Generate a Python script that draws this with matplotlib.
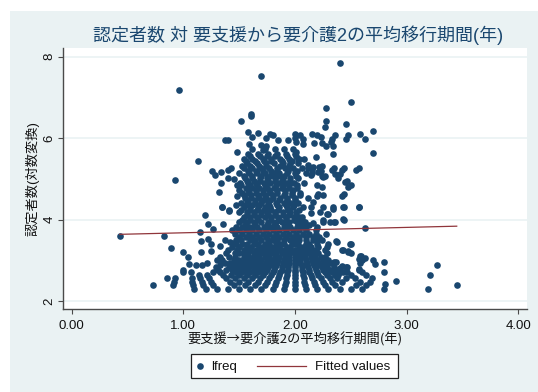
import matplotlib
matplotlib.use("Agg")
import matplotlib.pyplot as plt
import matplotlib.patches as patches
from matplotlib.lines import Line2D

plt.rcParams['font.family'] = ['Liberation Sans', 'Noto Sans CJK JP', 'DejaVu Sans']

title = "認定者数 対 要支援から要介護2の平均移行期間(年)"
xlabel = "要支援→要介護2の平均移行期間(年)"
ylabel = "認定者数(対数変換)"
xticks = [0, 1, 2, 3, 4]
xticklabels = ["0.00", "1.00", "2.00", "3.00", "4.00"]
yticks = [2, 4, 6, 8]

fit_x = [0.43, 3.45]
fit_y = [3.64, 3.84]

# scattered points, read one by one
outer_x = [0.43, 0.83, 0.887, 1.0, 1.045, 1.05, 1.11, 1.17, 1.21, 1.0, 1.0, 1.07, 1.15, 1.19, 1.22, 1.27, 1.35, 1.41, 1.36,
           1.16, 1.22, 1.25, 1.16, 1.25, 1.33, 1.37, 1.42, 1.45, 0.96, 1.70, 0.925, 1.13, 1.61, 1.61, 1.515, 1.58, 1.67,
           1.62, 1.37, 1.40, 1.59, 1.48, 1.70, 1.74, 1.71, 1.74, 1.78, 2.40, 2.50, 2.28, 2.28, 2.27, 2.455, 2.155, 2.20,
           2.23, 2.36, 2.33, 2.32, 2.475, 2.46, 2.58, 2.63, 2.70, 2.70, 2.17, 2.245, 2.28, 2.34, 2.34, 2.19, 1.80, 2.0,
           2.05, 2.0, 2.01, 2.07, 2.07, 1.94, 1.85, 2.01, 2.03, 2.08, 2.12, 2.16, 2.15, 2.24, 2.23, 2.27, 2.35, 2.4, 2.44,
           2.47, 2.5, 2.57, 2.2, 2.21, 2.44, 2.57, 2.44, 2.44, 2.34, 2.29, 2.25, 2.35, 2.63, 2.37, 2.5, 2.43, 2.48, 2.59,
           2.63, 2.7, 2.72, 2.8, 2.8, 2.57, 2.57, 2.6, 2.47, 2.42, 2.35, 2.91, 2.81, 3.21, 3.27, 3.19, 3.45,
           1.26, 1.28, 1.34, 1.40, 1.43, 1.335, 1.32, 1.40, 1.45, 1.48, 1.5, 1.48, 1.47, 1.41, 1.35,
           2.12, 2.15, 2.22, 2.21, 2.14, 2.24, 2.255, 2.33, 2.36, 2.42, 2.55, 2.39, 2.45, 2.48, 2.24, 2.20, 2.255, 2.42,
           2.43, 2.57, 2.115, 2.165, 2.14, 2.14, 2.255, 2.225, 2.34, 2.30, 2.43, 2.36, 2.315, 2.255, 2.165, 2.06, 2.06,
           2.375, 2.49, 2.425, 2.48, 2.5, 2.58, 2.6, 2.58, 2.57, 2.37, 2.46, 2.4, 2.36, 2.39, 2.43, 2.46, 2.54, 2.58]
outer_y = [3.60, 3.59, 3.30, 3.21, 3.09, 2.92, 2.89, 2.89, 2.93, 2.77, 2.71, 2.71, 3.70, 4.12, 3.90, 3.78, 4.30, 4.24, 3.90,
           3.48, 3.52, 3.41, 3.20, 3.22, 3.35, 3.50, 3.46, 3.43, 7.18, 7.52, 4.97, 5.43, 6.60, 6.55, 6.43, 6.15, 6.13,
           6.03, 5.95, 5.95, 5.86, 5.66, 5.83, 5.81, 5.70, 6.00, 6.10, 7.84, 6.90, 6.73, 6.43, 6.28, 6.34, 6.11, 6.08,
           6.03, 6.08, 5.98, 5.90, 6.07, 5.99, 6.10, 5.99, 6.18, 5.63, 5.87, 5.87, 5.80, 5.80, 5.62, 5.55, 6.07, 6.10,
           6.08, 6.00, 5.90, 5.97, 5.85, 5.96, 5.95, 5.65, 5.50, 5.50, 5.33, 5.29, 5.15, 5.32, 5.20, 5.08, 5.28, 5.11, 5.26,
           4.95, 4.85, 5.28, 4.85, 4.62, 4.62, 4.30, 4.30, 4.00, 4.27, 4.14, 3.98, 3.95, 3.80, 3.47, 3.40, 3.25, 3.20, 3.10,
           3.06, 3.02, 2.90, 2.96, 2.72, 3.03, 2.79, 2.71, 2.84, 2.87, 2.96, 2.49, 2.42, 2.64, 2.89, 2.30, 2.40,
           5.20, 5.10, 5.16, 5.22, 5.28, 4.90, 4.67, 5.03, 5.00, 4.85, 4.73, 4.58, 4.35, 4.22, 4.30,
           5.26, 5.22, 5.30, 5.16, 5.10, 5.06, 5.04, 5.22, 5.12, 5.22, 5.22, 5.02, 4.93, 4.81, 4.80, 4.58, 4.61, 4.58,
           4.30, 4.30, 4.52, 4.44, 4.32, 4.16, 4.32, 4.20, 4.30, 4.14, 4.01, 3.95, 3.95, 3.95, 3.91, 4.07, 3.93,
           3.46, 3.41, 3.26, 3.22, 3.18, 3.11, 3.01, 2.93, 2.77, 2.95, 2.83, 2.81, 2.72, 2.64, 2.72, 2.56, 2.58, 2.48]

# the low counts fall on clear rows
row_y = [2.30, 2.40, 2.48, 2.56, 2.64, 2.71, 2.77, 2.83, 2.89, 2.94, 3.00, 3.09, 3.18, 3.26, 3.33, 3.40, 3.50, 3.58, 3.66, 3.74,
         3.82, 3.94, 4.06, 4.18, 4.30, 4.42, 4.54, 4.66, 4.78, 4.90, 5.02, 5.14, 5.26, 5.38, 5.50, 5.62, 5.74,
         3.88, 4.00, 4.12, 4.24, 4.36, 4.48, 4.60, 4.72, 4.84, 4.96, 5.08, 5.20, 5.32, 5.44, 5.56]
row_x = [
    [1.1, 1.2, 1.3, 1.4, 1.5, 1.6, 1.7, 1.8, 1.9, 2.0, 2.1, 2.2, 2.3, 2.4, 2.5, 2.6, 2.8],
    [0.73, 0.91, 1.09, 1.18, 1.27, 1.45, 1.55, 1.64, 1.73, 1.82, 1.91, 2.0, 2.09, 2.18, 2.27, 2.36, 2.55, 2.64],
    [0.92, 1.08, 1.17, 1.25, 1.42, 1.5, 1.58, 1.67, 1.75, 1.83, 1.92, 2.0, 2.08, 2.17, 2.25, 2.33, 2.42, 2.67],
    [0.85, 0.93, 1.08, 1.15, 1.23, 1.38, 1.46, 1.54, 1.62, 1.69, 1.77, 1.85, 1.92, 2.0, 2.08, 2.15, 2.23, 2.31, 2.38, 2.69],
    [1.14, 1.21, 1.36, 1.43, 1.5, 1.57, 1.64, 1.71, 1.79, 1.86, 1.93, 2.0, 2.07, 2.14, 2.21, 2.29, 2.36, 2.5, 2.64],
    [1.27, 1.33, 1.47, 1.53, 1.6, 1.67, 1.73, 1.8, 1.87, 1.93, 2.0, 2.07, 2.13, 2.2, 2.27, 2.33, 2.4, 2.47],
    [1.31, 1.38, 1.44, 1.5, 1.56, 1.63, 1.69, 1.75, 1.81, 1.88, 1.94, 2.0, 2.06, 2.13, 2.19, 2.25, 2.31, 2.38],
    [1.29, 1.41, 1.47, 1.53, 1.59, 1.65, 1.71, 1.76, 1.82, 1.88, 1.94, 2.0, 2.06, 2.12, 2.18, 2.24, 2.29, 2.35],
    [1.33, 1.44, 1.5, 1.56, 1.61, 1.67, 1.72, 1.78, 1.83, 1.89, 1.94, 2.0, 2.06, 2.11, 2.17, 2.22, 2.28],
    [1.37, 1.42, 1.47, 1.53, 1.58, 1.63, 1.68, 1.74, 1.79, 1.84, 1.89, 1.95, 2.0, 2.05, 2.11, 2.16, 2.21, 2.26, 2.32],
    [1.30, 1.35, 1.45, 1.5, 1.55, 1.6, 1.65, 1.7, 1.75, 1.8, 1.85, 1.9, 1.95, 2.0, 2.05, 2.1, 2.15, 2.2, 2.25, 2.3],
    [1.33, 1.41, 1.46, 1.54, 1.59, 1.63, 1.68, 1.73, 1.77, 1.82, 1.86, 1.91, 1.95, 2.0, 2.05, 2.09, 2.14, 2.18, 2.23, 2.27],
    [1.38, 1.46, 1.5, 1.54, 1.58, 1.63, 1.67, 1.71, 1.75, 1.79, 1.83, 1.88, 1.92, 1.96, 2.0, 2.04, 2.08, 2.13, 2.17, 2.21, 2.29],
    [1.4, 1.48, 1.54, 1.6, 1.65, 1.69, 1.73, 1.77, 1.81, 1.85, 1.88, 1.92, 1.96, 2.0, 2.04, 2.08, 2.12, 2.15, 2.19, 2.27],
    [1.44, 1.5, 1.57, 1.61, 1.68, 1.71, 1.75, 1.79, 1.82, 1.86, 1.93, 1.96, 2.04, 2.07, 2.11, 2.14, 2.21, 2.29],
    [1.47, 1.53, 1.57, 1.63, 1.67, 1.73, 1.77, 1.83, 1.87, 1.9, 1.97, 2.0, 2.03, 2.1, 2.13, 2.2, 2.3],
    [1.47, 1.52, 1.6, 1.64, 1.7, 1.76, 1.8, 1.84, 1.9, 1.96, 2.0, 2.04, 2.1, 2.16, 2.2, 2.24],
    [1.5, 1.56, 1.62, 1.68, 1.74, 1.8, 1.86, 1.92, 1.98, 2.04, 2.1, 2.16, 2.22],
    [1.46, 1.53, 1.59, 1.65, 1.71, 1.77, 1.83, 1.89, 1.95, 2.01, 2.07, 2.13, 2.19, 2.28],
    [1.44, 1.5, 1.56, 1.62, 1.68, 1.74, 1.8, 1.86, 1.92, 1.98, 2.04, 2.1, 2.19],
    [1.47, 1.53, 1.6, 1.66, 1.72, 1.78, 1.84, 1.9, 1.96, 2.02, 2.08, 2.2],
    [1.5, 1.57, 1.63, 1.7, 1.76, 1.83, 1.88, 1.95, 2.02, 2.09],
    [1.54, 1.6, 1.66, 1.73, 1.79, 1.85, 1.92, 1.99, 2.04],
    [1.5, 1.57, 1.63, 1.7, 1.75, 1.82, 1.89, 1.96, 2.01],
    [1.54, 1.6, 1.67, 1.73, 1.78, 1.86, 1.93, 1.98, 2.07],
    [1.52, 1.58, 1.64, 1.7, 1.76, 1.83, 1.9, 1.96, 2.03],
    [1.55, 1.61, 1.68, 1.74, 1.8, 1.87, 1.93, 2.0],
    [1.53, 1.59, 1.65, 1.71, 1.78, 1.84, 1.91, 1.97, 2.05],
    [1.56, 1.62, 1.68, 1.75, 1.81, 1.88, 1.95, 2.02],
    [1.51, 1.58, 1.65, 1.72, 1.78, 1.85, 1.92, 1.99, 2.08],
    [1.55, 1.62, 1.69, 1.75, 1.82, 1.89, 1.96, 2.03],
    [1.5, 1.59, 1.66, 1.73, 1.8, 1.86, 1.93, 2.0, 2.1],
    [1.54, 1.62, 1.7, 1.77, 1.84, 1.91, 1.98, 2.06],
    [1.57, 1.66, 1.74, 1.81, 1.89, 1.96, 2.03],
    [1.54, 1.62, 1.71, 1.79, 1.87, 1.95, 2.04],
    [1.58, 1.67, 1.76, 1.84, 1.92, 2.0],
    [1.62, 1.73, 1.82, 1.9, 1.98],
    # in-between rows of the dense core
    [1.55, 1.64, 1.75, 1.81, 1.93, 2.05, 2.13],
    [1.53, 1.6, 1.67, 1.79, 1.86, 1.92, 1.99, 2.06],
    [1.57, 1.63, 1.7, 1.76, 1.82, 1.89, 1.95, 2.01],
    [1.52, 1.6, 1.66, 1.72, 1.79, 1.85, 1.94, 2.04],
    [1.55, 1.62, 1.68, 1.77, 1.84, 1.92, 1.99],
    [1.57, 1.64, 1.71, 1.78, 1.86, 1.93, 2.0],
    [1.54, 1.61, 1.67, 1.73, 1.8, 1.9, 1.97, 2.05],
    [1.58, 1.65, 1.71, 1.77, 1.84, 1.91, 1.98],
    [1.52, 1.6, 1.66, 1.73, 1.83, 1.89, 1.95, 2.02],
    [1.57, 1.63, 1.69, 1.76, 1.82, 1.88, 1.96],
    [1.54, 1.62, 1.7, 1.78, 1.85, 1.9, 2.01],
    [1.58, 1.65, 1.71, 1.79, 1.84, 1.94, 2.02],
    [1.53, 1.6, 1.68, 1.74, 1.87, 1.95],
    [1.56, 1.64, 1.72, 1.79, 1.88, 1.97],
    [1.6, 1.69, 1.75, 1.82, 1.93, 2.01],
]

navy = "#1A476F"
maroon = "#90353B"
bg = "#EAF2F3"

years = list(outer_x)
lfreq = list(outer_y)
for y, xs in zip(row_y, row_x):
    years += xs
    lfreq += [y] * len(xs)

W, H = 538, 392
fig = plt.figure(figsize=(W / 100, H / 100), dpi=100, facecolor="white")
fig.patches.append(patches.Rectangle((10 / W, 0), 1 - 10 / W, 1 - 11 / H, transform=fig.transFigure,
                                     facecolor=bg, edgecolor="none", zorder=-5))

ax = fig.add_axes([63 / W, 1 - 309.3 / H, (526.7 - 63) / W, (309.3 - 48.3) / H])
ax.set_facecolor("white")
ax.set_xlim(-0.078, 4.077)
ax.set_ylim(1.80, 8.206)

ax.grid(True, axis="y", color=bg, linewidth=1.2, zorder=0)
ax.set_axisbelow(True)
ax.scatter(years, lfreq, s=23, color=navy, linewidths=0, zorder=3)
ax.plot(fit_x, fit_y, color=maroon, linewidth=0.9, zorder=4)

for side in ["top", "right"]:
    ax.spines[side].set_visible(False)
for side in ["left", "bottom"]:
    ax.spines[side].set_color("#4a4a4a")
    ax.spines[side].set_linewidth(1.0)

ax.set_xticks(xticks)
ax.set_xticklabels(xticklabels)
ax.set_yticks(yticks)
ax.tick_params(axis="both", length=3.6, width=0.8, color="#4a4a4a", labelsize=9.5, labelcolor="#111111")
ax.tick_params(axis="x", pad=4)
ax.tick_params(axis="y", pad=2)
for t in ax.get_yticklabels():
    t.set_rotation(90)
    t.set_va("center")

fig.text(298 / W, 1 - 35 / H, title, ha="center", va="center", fontsize=13, color=navy)
fig.text(295 / W, 1 - 339.5 / H, xlabel, ha="center", va="center", fontsize=9.5, color="#111111",
         family=['Noto Sans CJK JP', 'DejaVu Sans'])
fig.text(32 / W, 1 - 179 / H, ylabel, ha="center", va="center", rotation=90, fontsize=9.5, color="#111111")

# legend drawn by hand, the two keys have different widths in the original
fig.patches.append(patches.Rectangle((191 / W, 1 - 378 / H), 207 / W, 24 / H, transform=fig.transFigure,
                                     facecolor="white", edgecolor="#222222", linewidth=0.9, zorder=5))
fig.add_artist(Line2D([200 / W], [1 - 366 / H], marker="o", markersize=4.8, color=navy, markeredgewidth=0,
                      linestyle="none", zorder=6))
fig.add_artist(Line2D([256.5 / W, 306 / W], [1 - 366 / H, 1 - 366 / H], color=maroon, linewidth=0.9, zorder=6))
fig.text(211 / W, 1 - 370 / H, "lfreq", ha="left", va="baseline", fontsize=9.5, color="#111111", zorder=6)
fig.text(315 / W, 1 - 370 / H, "Fitted values", ha="left", va="baseline", fontsize=9.5, color="#111111", zorder=6)

fig.savefig("out.png", dpi=100, facecolor=fig.get_facecolor())
